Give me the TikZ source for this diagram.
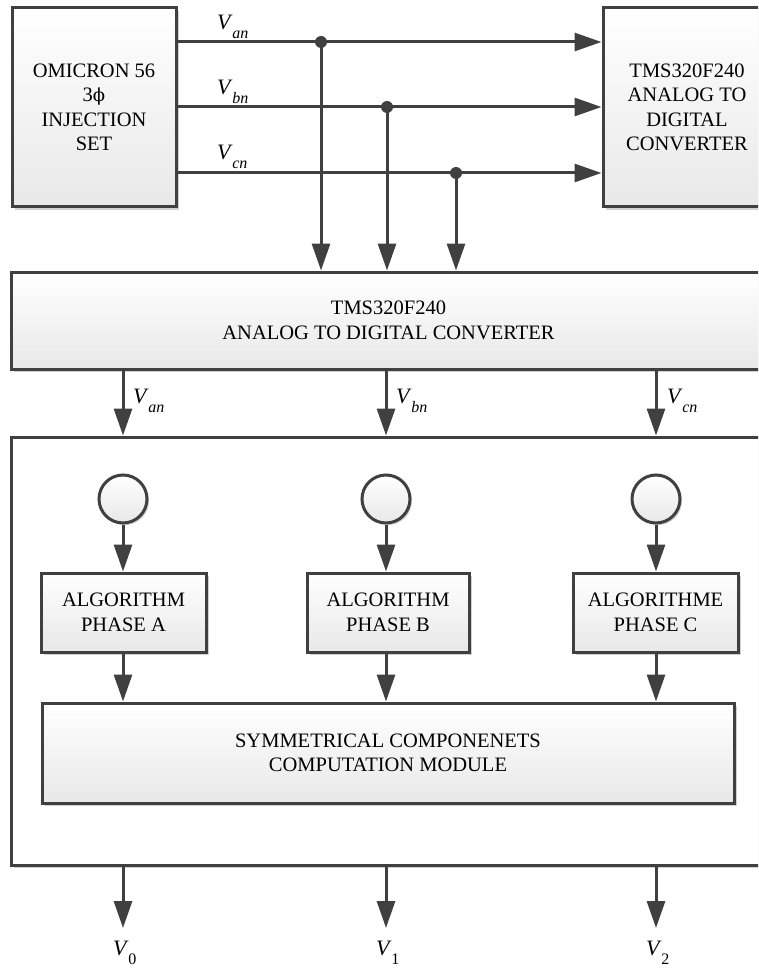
\documentclass[tikz,border=0pt]{standalone}
\usepackage{fontspec}
\setmainfont{Liberation Serif}
\newfontfamily\dvserif{DejaVu Serif}
\usetikzlibrary{arrows.meta,shadows}
\newcommand\Vsub[1]{\textit{V}\kern-0.5pt\raisebox{-9pt}{\fontsize{16}{16}\selectfont #1}}
\begin{document}
\begin{tikzpicture}[x=1pt,y=-1pt,
  ln/.style={line width=3pt,draw=black!75},
  arr/.style={ln,-{Triangle[length=27pt,width=18pt]}},
  boxx/.style={rectangle,ln,top color=white,bottom color=black!9,
     drop shadow={shadow xshift=3pt,shadow yshift=-3pt,fill=black!18,opacity=1},
     align=center,font=\fontsize{20.5}{24.5}\selectfont,inner sep=0pt},
  circ/.style={circle,ln,top color=white,bottom color=black!9,minimum size=48pt,inner sep=0pt,
     drop shadow={shadow xshift=2pt,shadow yshift=-2pt,fill=black!18,opacity=1}},
  dot/.style={circle,fill=black!75,minimum size=12pt,inner sep=0pt},
  lab/.style={font=\fontsize{22}{22}\selectfont,inner sep=0pt,anchor=base west}]
\useasboundingbox (0,0) rectangle (758,968);
\clip (0,0) rectangle (758,968);
% top boxes
\node[boxx,minimum width=164pt,minimum height=199pt] (omi) at (94,107.5)
  {OMICRON 56\\3{\dvserif\fontsize{18}{18}\selectfont ϕ}\\INJECTION\\SET};
\node[boxx,minimum width=168pt,minimum height=199pt] (tmsr) at (687,107.5)
  {TMS320F240\\ANALOG TO\\DIGITAL\\CONVERTER};
\node[boxx,minimum width=755pt,minimum height=97pt] (adc) at (388.5,320.5)
  {TMS320F240\\ANALOG TO DIGITAL CONVERTER};
% junctions
\node[dot] (da) at (321,42) {};
\node[dot] (db) at (387,107) {};
\node[dot] (dc) at (456,173) {};
\draw[arr] (omi.east |- da) -- (tmsr.west |- da);
\draw[arr] (omi.east |- db) -- (tmsr.west |- db);
\draw[arr] (omi.east |- dc) -- (tmsr.west |- dc);
\draw[arr] (da.center) -- (adc.north -| da);
\draw[arr] (db.center) -- (adc.north -| db);
\draw[arr] (dc.center) -- (adc.north -| dc);
\node[lab] (lva) at (217,30) {\Vsub{\textit{an}}};
\node[lab] (lvb) at (217,95) {\Vsub{\textit{bn}}};
\node[lab] (lvc) at (217,160) {\Vsub{\textit{cn}}};
% outer box
\node[boxx,top color=white,bottom color=white,minimum width=755pt,minimum height=428pt] (outer) at (388.5,651) {};
% circles
\node[circ] (ca) at (123,499) {};
\node[circ] (cb) at (386,499) {};
\node[circ] (cc) at (656,499) {};
% algorithm boxes
\node[boxx,minimum width=165pt,minimum height=79pt] (ala) at (123.5,612.5) {ALGORITHM\\PHASE A};
\node[boxx,minimum width=162pt,minimum height=79pt] (alb) at (388,612.5) {ALGORITHM\\PHASE B};
\node[boxx,minimum width=165pt,minimum height=79pt] (alc) at (655.5,612.5) {ALGORITHME\\PHASE C};
\node[boxx,minimum width=692pt,minimum height=100pt] (sym) at (388,753)
  {SYMMETRICAL COMPONENETS\\COMPUTATION MODULE};
% adc to outer
\draw[arr] (adc.south -| ca) -- (outer.north -| ca);
\draw[arr] (adc.south -| cb) -- (outer.north -| cb);
\draw[arr] (adc.south -| cc) -- (outer.north -| cc);
\node[lab] (lwa) at (133,403) {\Vsub{\textit{an}}};
\node[lab] (lwb) at (396,403) {\Vsub{\textit{bn}}};
\node[lab] (lwc) at (667,403) {\Vsub{\textit{cn}}};
% circles to algorithms
\draw[arr] (ca.south) -- (ala.north -| ca);
\draw[arr] (cb.south) -- (alb.north -| cb);
\draw[arr] (cc.south) -- (alc.north -| cc);
% algorithms to sym
\draw[arr] (ala.south -| ca) -- (sym.north -| ca);
\draw[arr] (alb.south -| cb) -- (sym.north -| cb);
\draw[arr] (alc.south -| cc) -- (sym.north -| cc);
% outputs
\coordinate (oa) at (123,928);
\coordinate (ob) at (386,928);
\coordinate (oc) at (656,928);
\draw[arr] (outer.south -| oa) -- (oa);
\draw[arr] (outer.south -| ob) -- (ob);
\draw[arr] (outer.south -| oc) -- (oc);
\node[lab] (v0) at (113,955) {\Vsub{0}};
\node[lab] (v1) at (376,955) {\Vsub{1}};
\node[lab] (v2) at (646,955) {\Vsub{2}};
\end{tikzpicture}
\end{document}
